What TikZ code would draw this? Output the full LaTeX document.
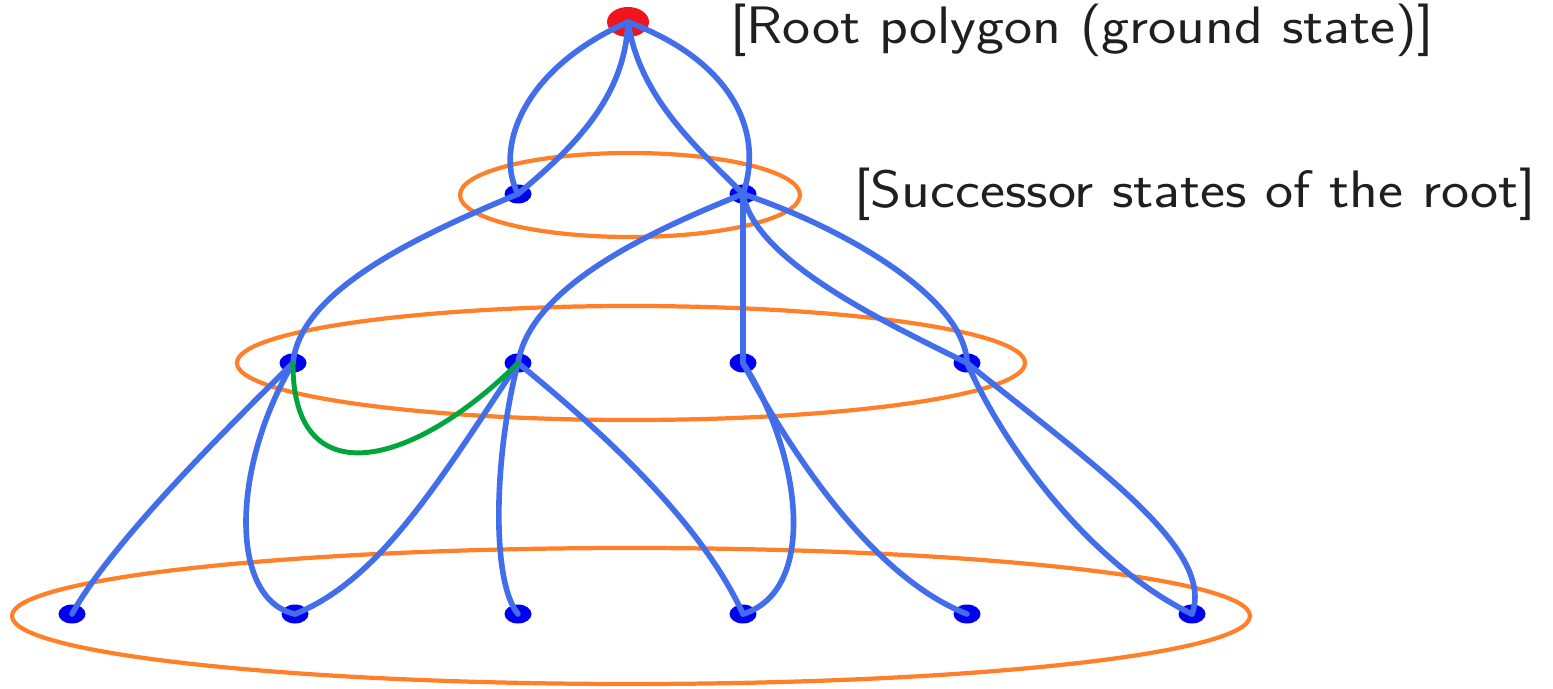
\documentclass[tikz,border=0pt]{standalone}
\usepackage{fontspec}
\usepackage{graphicx}
\usepackage{tikz}
\usetikzlibrary{positioning,shapes.geometric}

\definecolor{edgeblue}{RGB}{66,110,235}
\definecolor{stateblue}{RGB}{0,0,240}
\definecolor{rootred}{RGB}{240,20,30}
\definecolor{ringorange}{RGB}{255,128,40}
\definecolor{movegreen}{RGB}{0,165,60}

\newcommand{\widetext}[1]{\scalebox{1.13}[1]{#1}}

\begin{document}
\begin{tikzpicture}[
        sn/.style={ellipse, fill=stateblue, minimum width=5.4mm, minimum height=3.8mm, inner sep=0pt},
        rootn/.style={ellipse, fill=rootred, minimum width=8.4mm, minimum height=6mm, inner sep=0pt},
        ring/.style={draw=ringorange, line width=2.4pt},
        tr/.style={draw=edgeblue, line width=3.2pt, line cap=round},
        gr/.style={draw=movegreen, line width=2.8pt, line cap=round},
        lbl/.style={inner sep=0pt, font=\sffamily\fontsize{30}{36}\selectfont, text=black!88}
    ]
    \useasboundingbox (0,0) rectangle (31.06,-13.78);

    %% ---- level rings ----
    \draw[ring] (12.6,-3.9) ellipse [x radius=3.4cm, y radius=0.84cm];
    \draw[ring] (12.62,-7.26) ellipse [x radius=7.88cm, y radius=1.14cm];
    \draw[ring] (12.62,-12.32) ellipse [x radius=12.38cm, y radius=1.36cm];

    %% ---- states ----
    \node[rootn] (r) at (12.56,-0.44) {};
    % level 1
    \node[sn] (a1) at (10.36,-3.88) {};
    \node[sn] (a2) at (14.86,-3.88) {};
    % level 2
    \node[sn] (b1) at (5.86,-7.26) {};
    \node[sn] (b2) at (10.36,-7.26) {};
    \node[sn] (b3) at (14.86,-7.26) {};
    \node[sn] (b4) at (19.34,-7.26) {};
    % level 3
    \node[sn] (c1) at (1.44,-12.28) {};
    \node[sn] (c2) at (5.90,-12.28) {};
    \node[sn] (c3) at (10.36,-12.28) {};
    \node[sn] (c4) at (14.86,-12.28) {};
    \node[sn] (c5) at (19.34,-12.28) {};
    \node[sn] (c6) at (23.84,-12.28) {};

    %% ---- transitions ----
    % root -> level 1
    \draw[tr] (r.center) .. controls (10.4,-1.4) and (9.9,-3.0) .. (a1.center);
    \draw[tr] (r.center) .. controls (12.5,-2.0) and (11.4,-3.0) .. (a1.center);
    \draw[tr] (r.center) .. controls (12.8,-2.0) and (14.0,-3.0) .. (a2.center);
    \draw[tr] (r.center) .. controls (14.6,-1.2) and (15.3,-2.6) .. (a2.center);
    % level 1 -> level 2
    \draw[tr] (a1.center) .. controls (8.4,-4.7) and (6.0,-5.8) .. (b1.center);
    \draw[tr] (a2.center) .. controls (12.8,-4.7) and (10.6,-5.8) .. (b2.center);
    \draw[tr] (a2.center) -- (b3.center);
    \draw[tr] (a2.center) .. controls (17.0,-4.6) and (19.3,-6.0) .. (b4.center);
    \draw[tr] (a2.center) .. controls (15.1,-5.2) and (17.6,-6.4) .. (b4.center);
    % level 2 -> level 3
    \draw[tr] (b1.center) .. controls (4.4,-8.7) and (2.2,-10.9) .. (c1.center);
    \draw[tr] (b1.center) .. controls (4.6,-9.4) and (4.6,-12.0) .. (c2.center);
    \draw[tr] (b2.center) .. controls (8.8,-9.6) and (7.6,-11.6) .. (c2.center);
    \draw[tr] (b2.center) .. controls (9.9,-9.0) and (9.8,-11.6) .. (c3.center);
    \draw[tr] (b2.center) .. controls (12.0,-8.6) and (14.0,-10.4) .. (c4.center);
    \draw[tr] (b3.center) .. controls (16.0,-9.0) and (16.4,-11.8) .. (c4.center);
    \draw[tr] (b3.center) .. controls (16.0,-9.4) and (17.6,-11.6) .. (c5.center);
    \draw[tr] (b4.center) .. controls (22.0,-9.4) and (24.3,-11.0) .. (c6.center);
    \draw[tr] (b4.center) .. controls (20.2,-9.2) and (22.0,-11.4) .. (c6.center);
    % same-level move
    \draw[gr] (b1.center) .. controls (5.84,-9.9) and (8.2,-9.4) .. (b2.center);

    %% ---- labels ----
    \node[lbl, anchor=west] (lroot) at (14.6,-0.6) {\widetext{[Root polygon (ground state)]}};
    \node[lbl, right=1.94cm of a2] (lsucc) {\widetext{[Successor states of the root]}};

\end{tikzpicture}
\end{document}
